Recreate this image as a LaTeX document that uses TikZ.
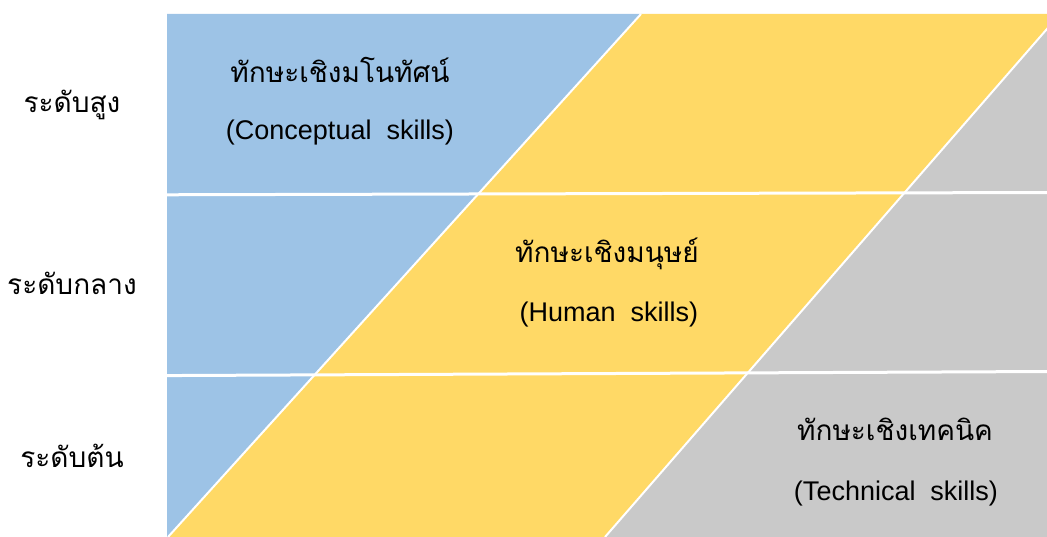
\documentclass[tikz,border=0pt]{standalone}
\usepackage{fontspec}
\setmainfont{Liberation Sans}
\newfontfamily\thaifont[Script=Thai]{Loma}
\definecolor{cblue}{HTML}{9DC3E6}
\definecolor{cyellow}{HTML}{FFD966}
\definecolor{cgray}{HTML}{C9C9C9}
\tikzset{
  thlabel/.style={anchor=base, inner sep=0pt, font=\thaifont\fontsize{28}{31}\selectfont},
  levellabel/.style={anchor=base, inner sep=0pt, font=\thaifont\fontsize{28}{31}\selectfont},
  enlabel/.style={anchor=base, inner sep=0pt, font=\fontsize{27}{30}\selectfont},
  divider/.style={white, line width=2pt},
  bandline/.style={white, line width=3pt}
}
\begin{document}
\begin{tikzpicture}[x=1pt,y=-1pt]
\useasboundingbox (0,0) rectangle (1047,537);
\coordinate (b1) at (641,14);
\coordinate (b2) at (168,537);
\coordinate (g1) at (1060,14);
\coordinate (g2) at (605,537);
\begin{scope}
\clip (167,14) rectangle (1047,537);
\fill[cblue] (167,14) -- (b1) -- (b2) -- (167,537) -- cycle;
\fill[cyellow] (b1) -- (g1) -- (g2) -- (b2) -- cycle;
\fill[cgray] (g1) -- (1100,14) -- (1100,537) -- (g2) -- cycle;
\draw[divider] (b1) -- (b2);
\draw[divider] (g1) -- (g2);
\coordinate (h1a) at (160,194.8);
\coordinate (h1b) at (1050,192.5);
\coordinate (h2a) at (160,375.6);
\coordinate (h2b) at (1050,371.5);
\draw[bandline] (h1a) -- (h1b);
\draw[bandline] (h2a) -- (h2b);
\end{scope}
\node[levellabel] (l1) at (72,113) {ระดับสูง};
\node[levellabel] (l2) at (72,295) {ระดับกลาง};
\node[levellabel] (l3) at (72,467) {ระดับต้น};
\node[thlabel] (t1) at (340,83) {ทักษะเชิงมโนทัศน์};
\node[enlabel] (e1) at (340,140) {(Conceptual\ \ skills)};
\node[thlabel] (t2) at (607,263) {ทักษะเชิงมนุษย์};
\node[enlabel] (e2) at (609,322) {(Human\ \ skills)};
\node[thlabel] (t3) at (895,440) {ทักษะเชิงเทคนิค};
\node[enlabel] (e3) at (896,500) {(Technical\ \ skills)};
\end{tikzpicture}
\end{document}
